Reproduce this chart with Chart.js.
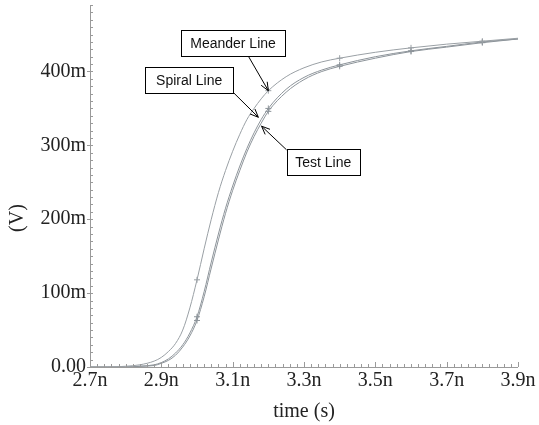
<!DOCTYPE html>
<html>
<head>
<meta charset="utf-8">
<script src="https://cdn.jsdelivr.net/npm/chart.js@4.4.7/dist/chart.umd.min.js"></script>
<style>
  html, body { margin: 0; padding: 0; background: #fff; }
  #wrap { position: relative; width: 539px; height: 425px; }
</style>
</head>
<body>
<div id="wrap"><canvas id="c"></canvas></div>
<script>
// time in ns
const timeNs = [2.70, 2.75, 2.80, 2.84, 2.88, 2.90, 2.92, 2.94, 2.96, 2.98,
                3.00, 3.02, 3.04, 3.06, 3.08, 3.10, 3.12, 3.14, 3.16, 3.18,
                3.20, 3.25, 3.30, 3.35, 3.40, 3.50, 3.60, 3.70, 3.80, 3.90];
// voltage in V
const meanderV = [0.000, 0.000, 0.001, 0.003, 0.008, 0.013, 0.021, 0.032, 0.050, 0.080,
                  0.118, 0.160, 0.200, 0.236, 0.266, 0.292, 0.315, 0.335, 0.350, 0.363,
                  0.374, 0.393, 0.405, 0.413, 0.418, 0.426, 0.432, 0.437, 0.441, 0.445];
const spiralV  = [0.000, 0.000, 0.000, 0.001, 0.003, 0.006, 0.011, 0.019, 0.030, 0.046,
                  0.068, 0.102, 0.142, 0.180, 0.215, 0.245, 0.272, 0.296, 0.317, 0.335,
                  0.350, 0.376, 0.392, 0.402, 0.409, 0.420, 0.428, 0.434, 0.440, 0.444];
const testV    = [0.000, 0.000, 0.000, 0.001, 0.002, 0.005, 0.009, 0.016, 0.027, 0.042,
                  0.063, 0.095, 0.134, 0.172, 0.208, 0.239, 0.266, 0.291, 0.312, 0.330,
                  0.346, 0.372, 0.389, 0.400, 0.407, 0.418, 0.427, 0.433, 0.439, 0.444];
const markerTimes = [3.0, 3.2, 3.4, 3.6, 3.8];

const xTicks = [2.7, 2.9, 3.1, 3.3, 3.5, 3.7, 3.9];
const xTickLabels = ['2.7n', '2.9n', '3.1n', '3.3n', '3.5n', '3.7n', '3.9n'];
const yTicks = [0, 0.1, 0.2, 0.3, 0.4];
const yTickLabels = ['0.00', '100m', '200m', '300m', '400m'];

// labels: box centre, arrow start and tip in data units
const callouts = [
  { text: 'Meander Line', box: [3.101, 0.438], w: 104, h: 26, from: [3.144, 0.4207], to: [3.200, 0.374] },
  { text: 'Spiral Line',  box: [2.978, 0.388], w: 88,  h: 26, from: [3.101, 0.372],  to: [3.172, 0.338] },
  { text: 'Test Line',    box: [3.354, 0.277], w: 73,  h: 26, from: [3.251, 0.294],  to: [3.181, 0.326] }
];

const pts = vals => timeNs.map((t, i) => ({ x: t, y: vals[i] }));
const isMarker = ctx => {
  const p = ctx.raw;
  return p && markerTimes.some(m => Math.abs(m - p.x) < 1e-6);
};

const lineSet = (label, vals, color) => ({
  label,
  data: pts(vals),
  borderColor: color,
  borderWidth: 1,
  cubicInterpolationMode: 'monotone',
  pointStyle: 'cross',
  pointRadius: ctx => isMarker(ctx) ? 3 : 0,
  pointBorderColor: color,
  pointBorderWidth: 1
});

const axisColor = '#9a9a9a';

const extras = {
  id: 'extras',
  afterDraw(chart) {
    const { ctx, chartArea: a, scales: { x, y } } = chart;
    ctx.save();
    ctx.strokeStyle = axisColor;
    ctx.lineWidth = 1;
    // axis lines
    ctx.beginPath();
    ctx.moveTo(a.left + 0.5, a.top);
    ctx.lineTo(a.left + 0.5, a.bottom + 0.5);
    ctx.lineTo(a.right, a.bottom + 0.5);
    ctx.stroke();
    // minor / major ticks
    ctx.beginPath();
    for (let i = 0; i <= 60; i++) {
      const px = Math.round(x.getPixelForValue(2.7 + i * 0.02)) + 0.5;
      const len = i % 10 === 0 ? 5 : 3;
      ctx.moveTo(px, a.bottom);
      ctx.lineTo(px, a.bottom - len);
    }
    for (let i = 0; i <= 49; i++) {
      const py = Math.round(y.getPixelForValue(i * 0.01)) + 0.5;
      if (i % 10 === 0) {
        ctx.moveTo(a.left - 3, py);
        ctx.lineTo(a.left + 3, py);
      } else {
        ctx.moveTo(a.left, py);
        ctx.lineTo(a.left + 3, py);
      }
    }
    ctx.stroke();

    // callouts
    ctx.font = '14px "Liberation Sans", Arial, sans-serif';
    ctx.textAlign = 'center';
    ctx.textBaseline = 'middle';
    callouts.forEach(c => {
      const bx = x.getPixelForValue(c.box[0]);
      const by = y.getPixelForValue(c.box[1]);
      const x0 = Math.round(bx - c.w / 2) + 0.5;
      const y0 = Math.round(by - c.h / 2) + 0.5;
      ctx.fillStyle = '#fff';
      ctx.fillRect(x0, y0, c.w, c.h);
      ctx.strokeStyle = '#000';
      ctx.lineWidth = 1;
      ctx.strokeRect(x0, y0, c.w, c.h);
      ctx.fillStyle = '#111';
      ctx.fillText(c.text, bx, by + 1);
      const fx = x.getPixelForValue(c.from[0]), fy = y.getPixelForValue(c.from[1]);
      const tx = x.getPixelForValue(c.to[0]), ty = y.getPixelForValue(c.to[1]);
      const ang = Math.atan2(ty - fy, tx - fx);
      ctx.beginPath();
      ctx.moveTo(fx, fy);
      ctx.lineTo(tx, ty);
      ctx.moveTo(tx - 9 * Math.cos(ang - 0.4), ty - 9 * Math.sin(ang - 0.4));
      ctx.lineTo(tx, ty);
      ctx.lineTo(tx - 9 * Math.cos(ang + 0.4), ty - 9 * Math.sin(ang + 0.4));
      ctx.stroke();
    });

    // axis titles
    ctx.fillStyle = '#222';
    ctx.font = '20px "Liberation Serif", "Times New Roman", serif';
    ctx.fillText('time (s)', (a.left + a.right) / 2, 412);
    ctx.translate(18, 218);
    ctx.rotate(-Math.PI / 2);
    ctx.fillText('(V)', 0, 0);
    ctx.restore();
  }
};

const serif = { family: '"Liberation Serif", "Times New Roman", serif', size: 20 };

new Chart(document.getElementById('c'), {
  type: 'line',
  data: {
    datasets: [
      lineSet('Meander Line', meanderV, '#9aa0a5'),
      lineSet('Spiral Line', spiralV, '#8d949a'),
      lineSet('Test Line', testV, '#8d949a')
    ]
  },
  options: {
    responsive: true,
    maintainAspectRatio: false,
    animation: false,
    layout: { padding: { top: 5, right: 21, left: 0, bottom: 0 } },
    plugins: { legend: { display: false }, tooltip: { enabled: false } },
    scales: {
      x: {
        type: 'linear',
        min: 2.7,
        max: 3.9,
        grid: { display: false, drawTicks: false },
        border: { display: false },
        afterBuildTicks: s => { s.ticks = xTicks.map(v => ({ value: v })); },
        afterFit: s => { s.height = 58; s.paddingLeft = 0; s.paddingRight = 0; },
        ticks: {
          padding: 2,
          maxRotation: 0,
          color: '#222',
          font: serif,
          callback: (v, i) => xTickLabels[i]
        }
      },
      y: {
        min: 0,
        max: 0.49,
        grid: { display: false, drawTicks: false },
        border: { display: false },
        afterBuildTicks: s => { s.ticks = yTicks.map(v => ({ value: v })); },
        afterFit: s => { s.width = 90; s.paddingTop = 0; s.paddingBottom = 0; },
        ticks: {
          padding: 4,
          color: '#222',
          font: serif,
          callback: (v, i) => yTickLabels[i]
        }
      }
    }
  },
  plugins: [extras]
});
</script>
</body>
</html>
